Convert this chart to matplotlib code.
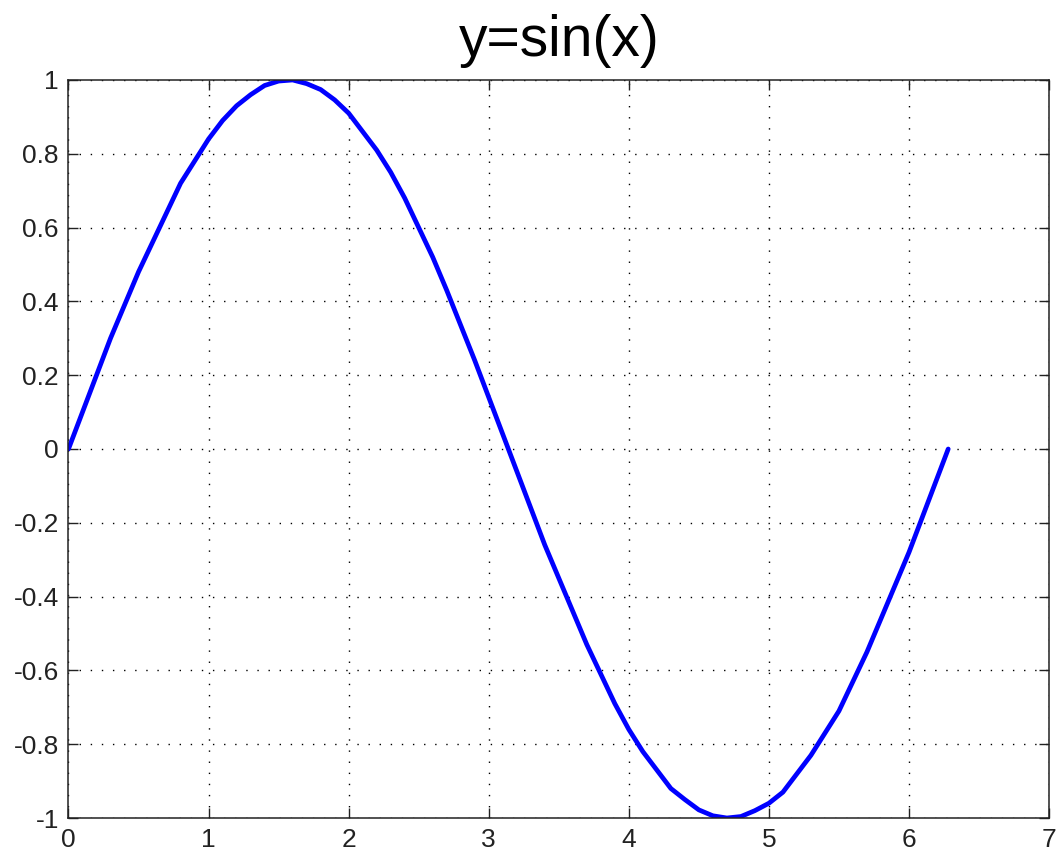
import matplotlib
matplotlib.use("Agg")
import matplotlib.pyplot as plt

# values
x_vals = [0.0, 0.1, 0.2, 0.3, 0.4, 0.5, 0.6, 0.7, 0.8, 0.9,
          1.0, 1.1, 1.2, 1.3, 1.4, 1.5, 1.6, 1.7, 1.8, 1.9,
          2.0, 2.1, 2.2, 2.3, 2.4, 2.5, 2.6, 2.7, 2.8, 2.9,
          3.0, 3.1, 3.2, 3.3, 3.4, 3.5, 3.6, 3.7, 3.8, 3.9,
          4.0, 4.1, 4.2, 4.3, 4.4, 4.5, 4.6, 4.7, 4.8, 4.9,
          5.0, 5.1, 5.2, 5.3, 5.4, 5.5, 5.6, 5.7, 5.8, 5.9,
          6.0, 6.1, 6.2, 6.28]
y_vals = [0.0, 0.10, 0.20, 0.30, 0.39, 0.48, 0.56, 0.64, 0.72, 0.78,
          0.84, 0.89, 0.93, 0.96, 0.985, 0.997, 1.0, 0.99, 0.974, 0.946,
          0.91, 0.86, 0.81, 0.75, 0.68, 0.60, 0.52, 0.43, 0.335, 0.24,
          0.14, 0.04, -0.06, -0.16, -0.26, -0.35, -0.44, -0.53, -0.61, -0.69,
          -0.76, -0.82, -0.87, -0.92, -0.95, -0.978, -0.994, -1.0, -0.996, -0.98,
          -0.96, -0.93, -0.88, -0.83, -0.77, -0.71, -0.63, -0.55, -0.46, -0.37,
          -0.28, -0.18, -0.08, 0.0]
x_ticks = [0, 1, 2, 3, 4, 5, 6, 7]
y_ticks = [-1, -0.8, -0.6, -0.4, -0.2, 0, 0.2, 0.4, 0.6, 0.8, 1]
y_labels = ["-1", "-0.8", "-0.6", "-0.4", "-0.2", "0", "0.2", "0.4", "0.6", "0.8", "1"]

plt.rcParams['font.family'] = ['Liberation Sans', 'DejaVu Sans']

fig = plt.figure(figsize=(10.57, 8.57), dpi=100)
ax = fig.add_axes([0.0648, 0.0455, 0.9277, 0.8612])

ax.plot(x_vals, y_vals, color=(0, 0, 1), linewidth=3.4,
        solid_capstyle='round', solid_joinstyle='round')

ax.set_xlim(0, 7)
ax.set_ylim(-1, 1)
ax.set_xticks(x_ticks)
ax.set_xticklabels([str(t) for t in x_ticks])
ax.set_yticks(y_ticks)
ax.set_yticklabels(y_labels)

ax.grid(True, color='black', linestyle=(0, (1, 7)), linewidth=1.0)
ax.tick_params(direction='in', length=7, width=1.0, top=True, right=True,
               labelsize=19, colors='#222222', pad=7)
for s in ax.spines.values():
    s.set_linewidth(1.1)
    s.set_color('#222222')

ax.set_title('y=sin(x)', fontsize=41, pad=17)

fig.savefig('out.png', dpi=100)
